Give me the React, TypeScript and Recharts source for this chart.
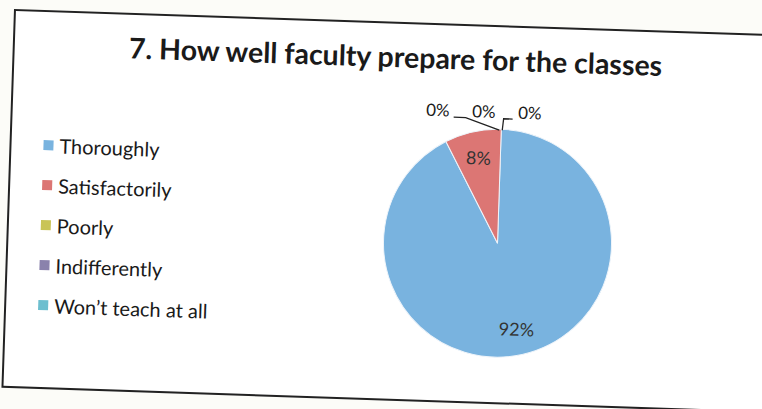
import React from "react";
import { PieChart, Pie, Cell } from "recharts";

const categories = [
  "Thoroughly",
  "Satisfactorily",
  "Poorly",
  "Indifferently",
  "Won\u2019t teach at all",
];
const values = [92, 8, 0, 0, 0];
const percentLabels = ["92%", "8%", "0%", "0%", "0%"];
const colors = ["#79B3DF", "#DC7674", "#C9C457", "#8A82AC", "#6DBFCF"];
const title = "7. How well faculty prepare for the classes";

const data = categories.map((name, i) => ({ name, value: values[i] }));

const RAD = Math.PI / 180;
const FONT = "Lato, 'Open Sans', sans-serif";

const renderLabel = (props: any) => {
  const { cx, cy, midAngle, outerRadius, index, value } = props;
  if (value > 0) {
    const r = outerRadius * 0.77;
    const x = cx + r * Math.cos(-midAngle * RAD);
    const y = cy + r * Math.sin(-midAngle * RAD);
    return (
      <text
        key={`l${index}`}
        x={x}
        y={y}
        textAnchor="middle"
        dominantBaseline="central"
        fontSize={18}
        fontFamily={FONT}
        fill="#333333"
      >
        {percentLabels[index]}
      </text>
    );
  }
  const k = index - 2;
  const top = cy - outerRadius;
  const ly = top - 11;
  const lx = cx - 64 + k * 46;
  let pts = "";
  if (k === 0) pts = `${cx - 48},${ly + 0.5} ${cx - 36},${ly + 0.5} ${cx - 2},${top + 1}`;
  if (k === 2) pts = `${cx + 1},${top + 1} ${cx + 2},${ly + 0.5} ${cx + 11},${ly + 0.5}`;
  return (
    <g key={`l${index}`}>
      {pts && <polyline points={pts} fill="none" stroke="#222" strokeWidth={1.3} />}
      <text
        x={lx}
        y={ly}
        textAnchor="middle"
        fontSize={17}
        fontFamily={FONT}
        fill="#1a1a1a"
      >
        {percentLabels[index]}
      </text>
    </g>
  );
};

export default function App() {
  return (
    <div
      style={{
        position: "absolute",
        left: 0,
        top: 0,
        width: 762,
        height: 409,
        overflow: "hidden",
        background: "#fcfcf8",
      }}
    >
      <div
        style={{
          position: "absolute",
          left: 14,
          top: 9,
          width: 800,
          height: 379,
          border: "2px solid #222",
          boxSizing: "border-box",
          transformOrigin: "0 0",
          transform: "rotate(1.9deg)",
          background: "#ffffff",
        }}
      >
        <svg
          width={796}
          height={60}
          style={{ position: "absolute", left: 0, top: 0 }}
        >
          <text
            x={381}
            y={43.5}
            textAnchor="middle"
            fontSize={28.5}
            fontWeight={700}
            fontFamily={FONT}
            fill="#1a1a1a"
          >
            {title}
          </text>
        </svg>
        <div
          style={{
            position: "absolute",
            left: 32,
            top: 113,
            fontFamily: FONT,
          }}
        >
          {categories.map((c, i) => (
            <div
              key={c}
              style={{ height: 40, display: "flex", alignItems: "center" }}
            >
              <span
                style={{
                  display: "inline-block",
                  width: 10,
                  height: 10,
                  background: colors[i],
                  marginRight: 6,
                }}
              />
              <span style={{ fontSize: 20, color: "#1a1a1a", whiteSpace: "nowrap" }}>
                {c}
              </span>
            </div>
          ))}
        </div>
        <div style={{ position: "absolute", left: 0, top: 0 }}>
          <PieChart
            width={796}
            height={375}
            margin={{ top: 0, right: 0, bottom: 0, left: 0 }}
          >
            <Pie
              data={data}
              dataKey="value"
              nameKey="name"
              cx={489}
              cy={216}
              outerRadius={114}
              startAngle={90}
              endAngle={-270}
              stroke="#eef4fa"
              strokeWidth={1}
              label={renderLabel}
              labelLine={false}
              isAnimationActive={false}
            >
              {data.map((d, i) => (
                <Cell key={d.name} fill={colors[i]} />
              ))}
            </Pie>
          </PieChart>
        </div>
      </div>
    </div>
  );
}
